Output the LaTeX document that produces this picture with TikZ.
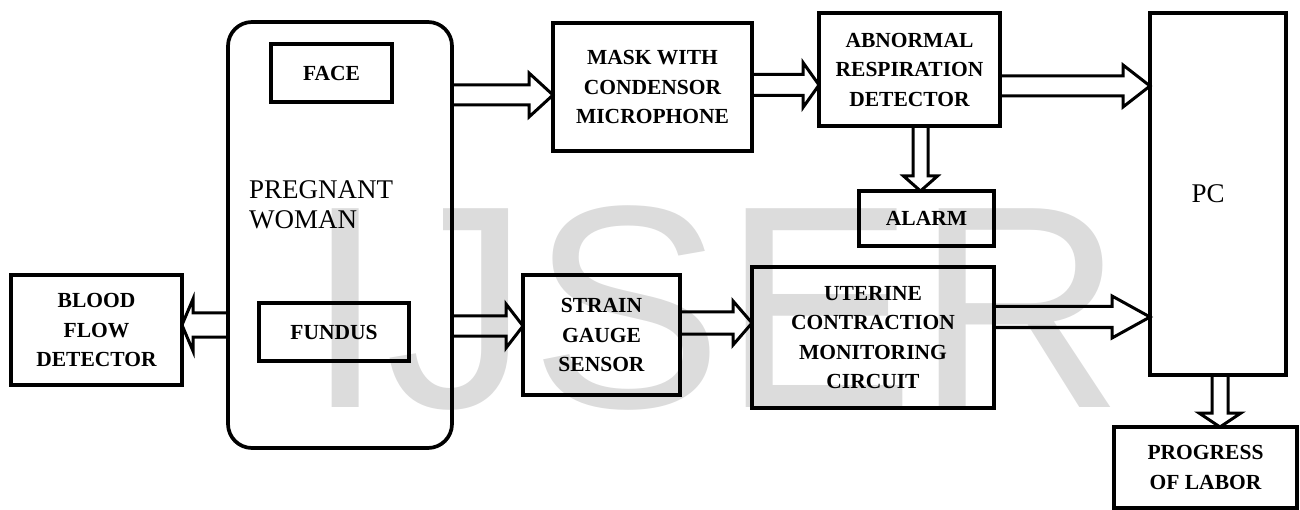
\documentclass[tikz,border=0pt]{standalone}
\usepackage{fontspec}
\setmainfont{Liberation Serif}
\newfontfamily\wmfont{Liberation Sans}
\usetikzlibrary{calc}
\definecolor{wmgray}{RGB}{220,220,220}
\newcommand\lbl{\bfseries\fontsize{21.5}{29.5}\selectfont}
\newcommand\plainlbl{\fontsize{27}{30}\selectfont}
\tikzset{
  box/.style={draw, line width=3.7pt, outer sep=0pt, inner sep=0pt, anchor=north west, font=\lbl, align=center},
  blk/.style={draw, line width=3pt, line join=miter},
}
\newcommand\blockarr[5]{% start, tip, shaft half-width, head half-width, head length
  \coordinate (ba-B) at ($(#2)!#5pt!(#1)$);
  \draw[blk] ($(#1)!#3pt!90:(#2)$) -- ($(ba-B)!#3pt!90:(#2)$) -- ($(ba-B)!#4pt!90:(#2)$) -- (#2)
    -- ($(ba-B)!#4pt!-90:(#2)$) -- ($(ba-B)!#3pt!-90:(#2)$) -- ($(#1)!#3pt!-90:(#2)$) -- cycle;}
\begin{document}
\begin{tikzpicture}[x=1pt,y=-1pt]
\useasboundingbox (0,0) rectangle (1300,510);
% watermark
\node[anchor=base west, inner sep=0pt, text=wmgray, font=\wmfont\fontsize{289}{289}\selectfont] (wm) at (305,407) {IJSER};
% boxes
\node[box, rounded corners=24pt, minimum width=224pt, minimum height=426pt] (pw) at (228,22) {};
\node[anchor=base west, inner sep=0pt, font=\plainlbl, align=left] (pwtext) at (249,229) {PREGNANT\\WOMAN};
\node[box, minimum width=121pt, minimum height=58pt] (face) at (271,44) {FACE};
\node[box, minimum width=150pt, minimum height=58pt] (fundus) at (259,303) {FUNDUS};
\node[box, minimum width=171pt, minimum height=110pt] (blood) at (11,275) {BLOOD\\FLOW\\DETECTOR};
\node[box, minimum width=199pt, minimum height=128pt] (mask) at (553,23) {MASK WITH\\CONDENSOR\\MICROPHONE};
\node[box, minimum width=181pt, minimum height=113pt] (abn) at (819,13) {ABNORMAL\\RESPIRATION\\DETECTOR};
\node[box, minimum width=135pt, minimum height=55pt] (alarm) at (859,191) {ALARM};
\node[box, minimum width=157pt, minimum height=120pt] (strain) at (523,275) {STRAIN\\GAUGE\\SENSOR};
\node[box, line width=4.5pt, minimum width=242pt, minimum height=141pt] (ut) at (752,267) {UTERINE\\CONTRACTION\\MONITORING\\CIRCUIT};
\node[box, minimum width=136pt, minimum height=362pt] (pc) at (1150,13) {};
\node[anchor=base, inner sep=0pt, font=\plainlbl] (pctext) at (1208,203) {PC};
\node[box, minimum width=183pt, minimum height=81pt] (prog) at (1114,427) {PROGRESS\\OF LABOR};
% connector end points
\coordinate (a1s) at (pw.east |- 0,95);   \coordinate (a1t) at (mask.west |- 0,95);
\coordinate (a2s) at (mask.east |- 0,85); \coordinate (a2t) at (abn.west |- 0,85);
\coordinate (a3s) at (abn.east |- 0,86);  \coordinate (a3t) at (pc.west |- 0,86);
\coordinate (a4s) at (abn.south -| 920.5,0); \coordinate (a4t) at (alarm.north -| 920.5,0);
\coordinate (a5s) at (pw.west |- 0,325);  \coordinate (a5t) at (blood.east |- 0,325);
\coordinate (a6s) at (pw.east |- 0,326);  \coordinate (a6t) at (strain.west |- 0,326);
\coordinate (a7s) at (strain.east |- 0,323); \coordinate (a7t) at (ut.west |- 0,323);
\coordinate (a8s) at (ut.east |- 0,317);  \coordinate (a8t) at (pc.west |- 0,317);
\coordinate (a9s) at (pc.south -| 1220,0); \coordinate (a9t) at (prog.north -| 1220,0);
% block arrows
\blockarr{a1s}{a1t}{10}{22}{24}
\blockarr{a2s}{a2t}{10.5}{22.5}{16}
\blockarr{a3s}{a3t}{10}{21}{27}
\blockarr{a4s}{a4t}{7.5}{17}{15}
\blockarr{a5s}{a5t}{12}{26}{11}
\blockarr{a6s}{a6t}{10}{22}{17}
\blockarr{a7s}{a7t}{11}{22}{19}
\blockarr{a8s}{a8t}{10.5}{21}{38}
\blockarr{a9s}{a9t}{8}{21}{14}
\end{tikzpicture}
\end{document}
